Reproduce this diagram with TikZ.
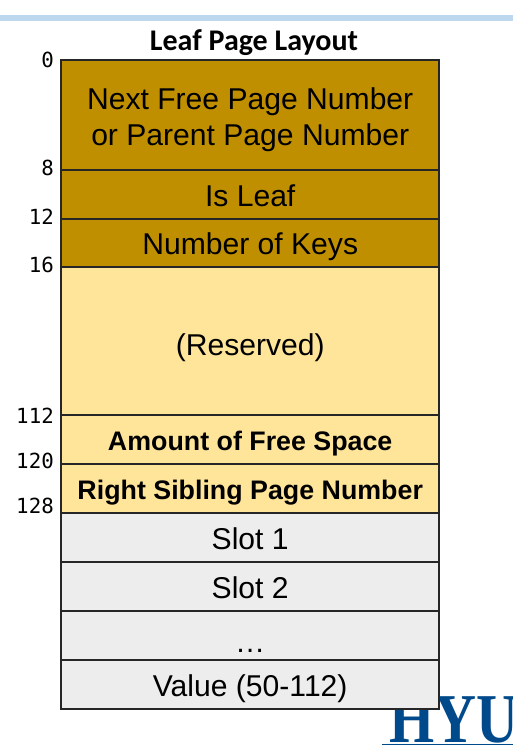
\documentclass[tikz,border=0pt]{standalone}
\usepackage{fontspec}
\setmainfont{Liberation Sans}
\newfontfamily\titlefont{Carlito}
\newfontfamily\offsetfont{DejaVu Sans Mono}
\newfontfamily\logofont{Liberation Serif}
\definecolor{darkgold}{HTML}{BF8F00}
\definecolor{lightgold}{HTML}{FFE599}
\definecolor{lightgray}{HTML}{EDEDED}
\definecolor{topbar}{HTML}{BDD7EE}
\definecolor{logoblue}{HTML}{004A8C}
\definecolor{edge}{HTML}{262626}
\tikzset{
  x=1pt,y=-1pt,
  cell/.style={minimum width=378pt,inner sep=0pt,anchor=north west,align=center,font=\fontsize{30.1}{36}\selectfont,text=black},
  line/.style={cell,text height=27pt,text depth=4pt},
  bcell/.style={cell,text height=24pt,text depth=3pt,font=\fontsize{26.8}{30}\selectfont\bfseries},
  offset/.style={anchor=east,inner sep=0pt,font=\offsetfont\fontsize{20.8}{22}\selectfont,text=black},
  rule/.style={draw=edge,line width=2pt},
}
\begin{document}
\begin{tikzpicture}
\useasboundingbox (0,0) rectangle (513,754);
\fill[topbar] (0,15) rectangle (513,21.5);
\node[inner sep=0pt,font=\titlefont\bfseries\fontsize{30}{32}\selectfont] (title) at (254,43) {Leaf Page Layout};
% logo below the table
\node[anchor=base west,inner sep=0pt,text=logoblue,font=\logofont\bfseries\fontsize{70}{70}\selectfont] (logo) at (389,742.8) {\scalebox{.83}[1]{HYU}};
\fill[logoblue] (382,743.6) rectangle (513,745);
\node[cell,fill=darkgold,minimum height=110pt] (c1) at (61,60) {\rule{0pt}{30pt}Next Free Page Number\\or Parent Page Number};
\node[line,fill=darkgold,minimum height=49pt] (c2) at (61,170) {Is Leaf};
\node[line,fill=darkgold,minimum height=48pt] (c3) at (61,219) {Number of Keys};
\node[line,fill=lightgold,minimum height=148pt,text height=29pt,text depth=1pt] (c4) at (61,267) {(Reserved)};
\node[bcell,fill=lightgold,minimum height=49pt] (c5) at (61,415) {Amount of Free Space};
\node[bcell,fill=lightgold,minimum height=49pt] (c6) at (61,464) {Right Sibling Page Number};
\node[line,fill=lightgray,minimum height=49pt] (c7) at (61,513) {Slot 1};
\node[line,fill=lightgray,minimum height=49pt] (c8) at (61,562) {Slot 2};
\node[line,fill=lightgray,minimum height=49pt,text height=34pt,text depth=0pt] (c9) at (61,611) {…};
\node[line,fill=lightgray,minimum height=49pt] (c10) at (61,660) {Value (50-112)};
\foreach \n in {c1,c2,c3,c4,c5,c6,c7,c8,c9} \draw[rule] (\n.south west) -- (\n.south east);
\draw[rule] (c1.north west) rectangle (c10.south east);
\node[offset] (o0) at (54,60) {0};
\node[offset] (o8) at (54,168) {8};
\node[offset] (o12) at (54,217) {12};
\node[offset] (o16) at (54,265) {16};
\node[offset] (o112) at (54,416) {112};
\node[offset] (o120) at (54,461) {120};
\node[offset] (o128) at (54,506) {128};
\end{tikzpicture}
\end{document}
